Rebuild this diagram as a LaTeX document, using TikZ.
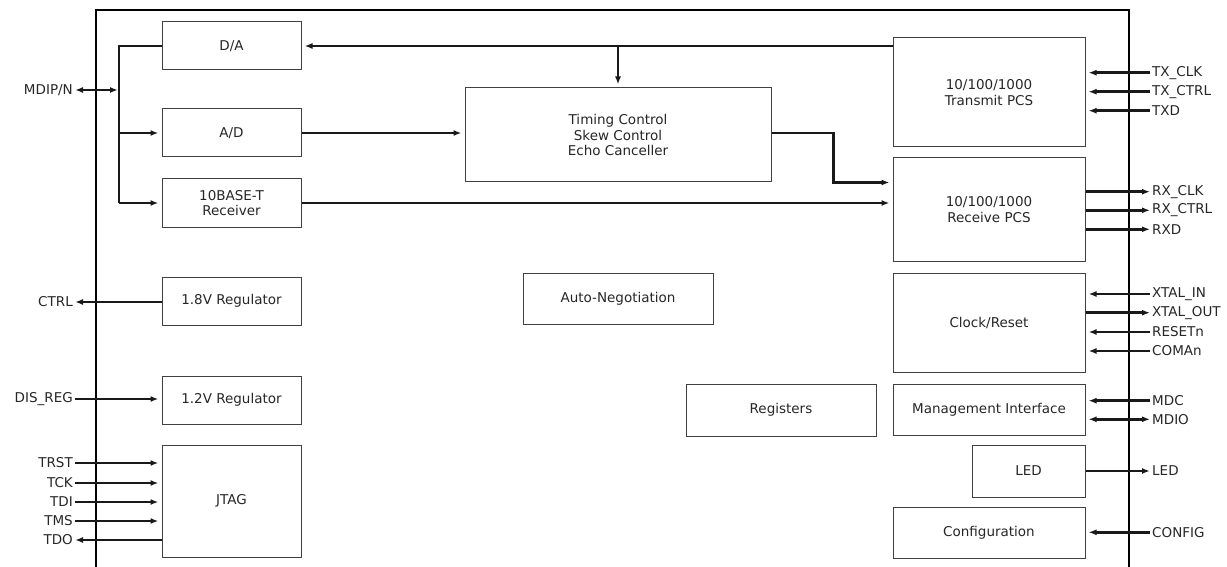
\documentclass[tikz,border=0pt]{standalone}
\usepackage{fontspec}
\setmainfont{DejaVu Sans}
\usetikzlibrary{
    arrows.meta,
    calc
}

\begin{document}
\begin{tikzpicture}[x=1pt, y=-1pt,
        font=\fontsize{13.5}{15.5}\selectfont,
        >={Latex[length=8pt,width=6pt]},
        blk/.style={draw=black!75, line width=1pt, text=black!85, align=center, inner sep=2pt},
        sig/.style={line width=2.6pt, draw=black!90},
        sigin/.style={sig, ->, shorten >=3pt},
        pinl/.style={anchor=east, inner sep=2pt, text=black!85},
        pinr/.style={anchor=west, inner sep=2pt, text=black!85}]
		\useasboundingbox (0, 0) rectangle (1227, 567);
		\draw [-, line width=2.2pt] (96, 567) -- (96, 10) -- (1129, 10) -- (1129, 567);
        % blocks
        \node[blk, minimum width=139, minimum height=48] (da) at (231.5, 46) {D/A};
        \node[blk, minimum width=139, minimum height=48] (ad) at (231.5, 133) {A/D};
        \node[blk, minimum width=139, minimum height=48] (rx10) at (231.5, 203) {10BASE-T\\Receiver};
        \node[blk, minimum width=139, minimum height=48] (reg18) at (231.5, 301) {1.8V Regulator};
        \node[blk, minimum width=139, minimum height=48] (reg12) at (231.5, 400) {1.2V Regulator};
        \node[blk, minimum width=139, minimum height=112] (jtag) at (231.5, 501) {JTAG};
        \node[blk, minimum width=306, minimum height=94] (timing) at (618, 135) {Timing Control\\Skew Control\\Echo Canceller};
        \node[blk, minimum width=190, minimum height=51] (autoneg) at (618, 298.5) {Auto-Negotiation};
        \node[blk, minimum width=190, minimum height=52] (regs) at (781, 410) {Registers};
        \node[blk, minimum width=192, minimum height=109] (tpcs) at (989, 92.5) {10/100/1000\\Transmit PCS};
        \node[blk, minimum width=192, minimum height=103] (rpcs) at (989, 209.5) {10/100/1000\\Receive PCS};
        \node[blk, minimum width=192, minimum height=99] (clk) at (989, 322.5) {Clock/Reset};
        \node[blk, minimum width=192, minimum height=51] (mgmt) at (989, 409.5) {Management Interface};
        \node[blk, minimum width=113, minimum height=52] (led) at (1028.5, 471) {LED};
        \node[blk, minimum width=192, minimum height=51] (cfg) at (989, 532.5) {Configuration};
        % internal paths
        \coordinate (bustop) at (119, 46);
        \coordinate (busbot) at (119, 203);
        \draw [sig] (da.west) -- (bustop) -- (busbot);
        \draw [sigin] (busbot) -- (rx10.west);
        \draw [sigin] (ad.west -| busbot) -- (ad.west);
        \draw [sigin] (tpcs.west |- da.east) -- (da.east);
        \draw [sigin] (timing.north |- da.east) -- (timing.north);
        \draw [sigin] (ad.east) -- (ad.east -| timing.west);
        \draw [sigin] (timing.east |- ad.east) -- ++(62, 0) |- (timing.south -| rpcs.west);
        \draw [sigin] (rx10.east) -- (rx10.east -| rpcs.west);
        % left pins
        \node[pinl] (mdip) at (75, 90) {MDIP/N};
        \node[pinl] (ctrl) at (75, 302) {CTRL};
        \node[pinl] (disreg) at (75, 399) {DIS\_REG};
        \node[pinl] (trst) at (75, 463) {TRST};
        \node[pinl] (tck) at (75, 483) {TCK};
        \node[pinl] (tdi) at (75, 502) {TDI};
        \node[pinl] (tms) at (75, 521) {TMS};
        \node[pinl] (tdo) at (75, 540) {TDO};
        \draw [sig, <->, shorten >=1pt] (mdip.east) -- (mdip.east -| busbot);
        \draw [sig, ->] (ctrl.east -| reg18.west) -- (ctrl.east);
        \draw [sigin] (disreg.east) -- (disreg.east -| reg12.west);
        \draw [sigin] (trst.east) -- (trst.east -| jtag.west);
        \draw [sigin] (tck.east) -- (tck.east -| jtag.west);
        \draw [sigin] (tdi.east) -- (tdi.east -| jtag.west);
        \draw [sigin] (tms.east) -- (tms.east -| jtag.west);
        \draw [sig, ->] (tdo.east -| jtag.west) -- (tdo.east);
        % right pins
        \node[pinr] (txclk) at (1150, 72.7) {TX\_CLK};
        \node[pinr] (txctrl) at (1150, 91.7) {TX\_CTRL};
        \node[pinr] (txd) at (1150, 110.7) {TXD};
        \node[pinr] (rxclk) at (1150, 191.7) {RX\_CLK};
        \node[pinr] (rxctrl) at (1150, 210.3) {RX\_CTRL};
        \node[pinr] (rxd) at (1150, 229.3) {RXD};
        \node[pinr] (xtalin) at (1150, 294) {XTAL\_IN};
        \node[pinr] (xtalout) at (1150, 312.7) {XTAL\_OUT};
        \node[pinr] (resetn) at (1150, 332) {RESETn};
        \node[pinr] (coman) at (1150, 351) {COMAn};
        \node[pinr] (mdc) at (1150, 400.7) {MDC};
        \node[pinr] (mdio) at (1150, 419.3) {MDIO};
        \node[pinr] (ledpin) at (1150, 471) {LED};
        \node[pinr] (config) at (1150, 532.3) {CONFIG};
        \draw [sigin] (txclk.west) -- (txclk.west -| tpcs.east);
        \draw [sigin] (txctrl.west) -- (txctrl.west -| tpcs.east);
        \draw [sigin] (txd.west) -- (txd.west -| tpcs.east);
        \draw [sig, ->] (rxclk.west -| rpcs.east) -- (rxclk.west);
        \draw [sig, ->] (rxctrl.west -| rpcs.east) -- (rxctrl.west);
        \draw [sig, ->] (rxd.west -| rpcs.east) -- (rxd.west);
        \draw [sigin] (xtalin.west) -- (xtalin.west -| clk.east);
        \draw [sig, ->] (xtalout.west -| clk.east) -- (xtalout.west);
        \draw [sigin] (resetn.west) -- (resetn.west -| clk.east);
        \draw [sigin] (coman.west) -- (coman.west -| clk.east);
        \draw [sigin] (mdc.west) -- (mdc.west -| mgmt.east);
        \draw [sig, <->, shorten >=3pt] (mdio.west) -- (mdio.west -| mgmt.east);
        \draw [sig, ->] (ledpin.west -| led.east) -- (ledpin.west);
        \draw [sigin] (config.west) -- (config.west -| cfg.east);
	\end{tikzpicture}
\end{document}
